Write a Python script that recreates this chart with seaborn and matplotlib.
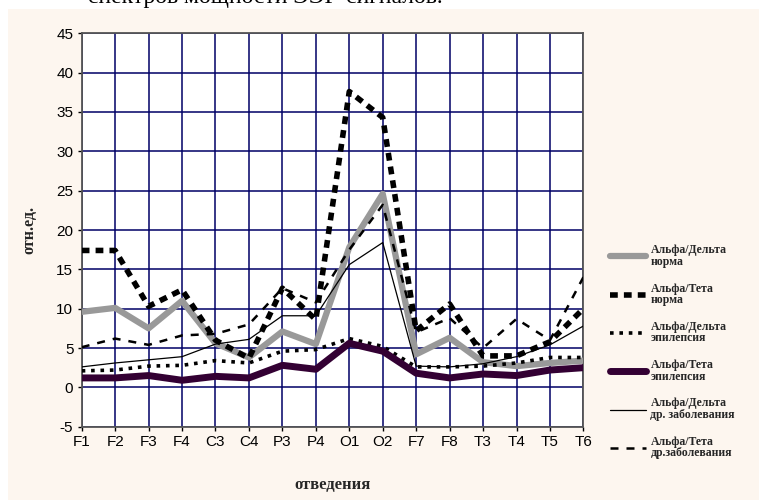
import matplotlib
matplotlib.use("Agg")
import matplotlib.pyplot as plt
import seaborn as sns
import pandas as pd
from matplotlib.patches import Rectangle
from matplotlib.lines import Line2D

leads = ["F1", "F2", "F3", "F4", "C3", "C4", "P3", "P4", "O1", "O2",
         "F7", "F8", "T3", "T4", "T5", "T6"]

ad_norm = [9.6, 10.1, 7.5, 11.0, 5.6, 3.8, 7.1, 5.5, 17.8, 24.6,
           4.2, 6.3, 3.2, 2.7, 3.1, 3.4]
at_norm = [17.4, 17.4, 10.3, 12.4, 6.0, 3.7, 12.6, 8.6, 37.6, 34.3,
           7.2, 10.6, 4.0, 4.0, 5.8, 10.0]
ad_epi = [2.1, 2.2, 2.7, 2.8, 3.4, 3.1, 4.6, 4.8, 6.2, 5.2,
          2.6, 2.6, 2.7, 3.1, 3.8, 3.8]
at_epi = [1.2, 1.2, 1.5, 0.9, 1.4, 1.2, 2.8, 2.3, 5.6, 4.6,
          1.8, 1.2, 1.7, 1.5, 2.2, 2.5]
ad_other = [2.6, 3.1, 3.5, 3.9, 5.5, 6.1, 9.1, 9.1, 15.6, 18.4,
            2.7, 2.6, 3.0, 3.9, 5.4, 7.8]
at_other = [5.1, 6.2, 5.4, 6.6, 6.8, 8.0, 12.6, 10.8, 17.5, 23.2,
            7.0, 8.8, 5.0, 8.7, 6.0, 14.0]

labels = ["Альфа/Дельта\nнорма", "Альфа/Тета\nнорма", "Альфа/Дельта\nэпилепсия",
          "Альфа/Тета\nэпилепсия", "Альфа/Дельта\nдр. заболевания",
          "Альфа/Тета\nдр.заболевания"]

sns.set_style("white")
plt.rcParams['font.family'] = ['Liberation Sans', 'DejaVu Sans']
plt.rcParams['axes.unicode_minus'] = False

fig = plt.figure(figsize=(7.59, 5.0), dpi=100)
fig.patch.set_facecolor("white")
fig.patches.append(Rectangle((8 / 759, 0), 1, (500 - 9) / 500, transform=fig.transFigure,
                             facecolor="#FDF6EF", edgecolor="none", zorder=-10))
fig.text(88 / 759, 1.005, "спектров мощности ЭЭГ-сигналов.", family="Liberation Serif",
         fontsize=17, ha="left", va="center", color="black")

ax = fig.add_axes([81.7 / 759, 1 - 426.7 / 500, (583.4 - 81.7) / 759, (426.7 - 33.3) / 500])
ax.set_facecolor("white")

styles = [
    dict(data=ad_norm, color="#999999", lw=4.5, ls="-"),
    dict(data=at_norm, color="black", lw=4.0, ls=(0, (1.4, 1.1))),
    dict(data=ad_epi, color="black", lw=2.6, ls=(0, (1.0, 1.6))),
    dict(data=at_epi, color="#330033", lw=5.0, ls="-"),
    dict(data=ad_other, color="black", lw=0.9, ls="-"),
    dict(data=at_other, color="black", lw=1.8, ls=(0, (3.2, 3.2))),
]

handles = []
for st, lab in zip(styles, labels):
    df = pd.DataFrame({"lead": leads, "val": st["data"]})
    sns.lineplot(data=df, x="lead", y="val", ax=ax, sort=False, color=st["color"],
                 linewidth=st["lw"], linestyle=st["ls"], zorder=3)
    handles.append(Line2D([0], [0], color=st["color"], lw=st["lw"], ls=st["ls"]))

ax.set_xlim(0, len(leads) - 1)
ax.set_ylim(-5, 45)
ax.set_yticks(range(-5, 46, 5))
ax.set_xticks(range(len(leads)))
ax.set_xticklabels(leads)
ax.grid(True, color="#000066", lw=1.1, zorder=0)
ax.set_axisbelow(True)
for sp in ax.spines.values():
    sp.set_color("#555555")
    sp.set_linewidth(1.3)
ax.tick_params(axis="both", labelsize=11, colors="black", length=3, width=1,
               left=True, bottom=True, pad=3)

ax.set_xlabel("отведения", family="Liberation Serif", fontweight="bold", fontsize=12,
              labelpad=20)
ax.set_ylabel("отн.ед.", family="Liberation Serif", fontweight="bold", fontsize=11.5,
              labelpad=14)

leg = fig.legend(handles, labels, loc="upper left", bbox_to_anchor=(602 / 759, 1 - 236 / 500),
                 frameon=False, prop={"family": "Liberation Serif", "weight": "bold", "size": 8.5},
                 handlelength=3.0, labelspacing=1.25, handletextpad=0.4, borderpad=0.2)
for t in leg.get_texts():
    t.set_linespacing(0.95)

fig.savefig("out.png", dpi=100, facecolor=fig.get_facecolor())
